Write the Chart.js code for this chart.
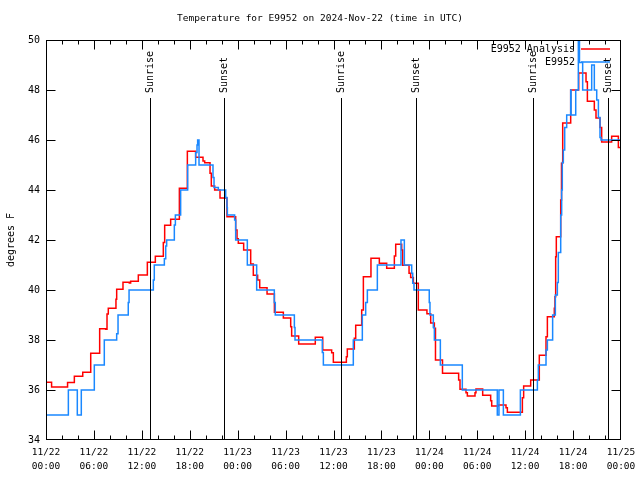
<!DOCTYPE html>
<html>
<head>
<meta charset="utf-8">
<title>Temperature E9952</title>
<script src="https://cdn.jsdelivr.net/npm/chart.js@4.4.1/dist/chart.umd.min.js"></script>
<style>
	body { margin:0; background:#fff; }
	#divGrafico { width:640px; height:480px; }
</style>
</head>
<body onload="Inicio()">
<div id="divGrafico"><canvas id="grafTemp" width="640" height="480"></canvas></div>
<script>
//	Grafico de temperatura de la estacion E9952, 3 dias desde 2024-Nov-22 (horas UTC)

//	Eje X: horas desde 11/22 00:00
var etiquetasX=[['11/22','00:00'],['11/22','06:00'],['11/22','12:00'],['11/22','18:00'],
	['11/23','00:00'],['11/23','06:00'],['11/23','12:00'],['11/23','18:00'],
	['11/24','00:00'],['11/24','06:00'],['11/24','12:00'],['11/24','18:00'],['11/25','00:00']];
var ticksY=[34,36,38,40,42,44,46,48,50];

//	Serie "E9952 Analysis" (inicio de cada escalon, horas / grados F)
var horasAnalisis=[0,0.7,2.7,3.55,4.6,5.6,6.72,7.47,7.64,7.8,8.76,8.85,9.64,10.43,10.6,11.56,12.69,13.69,14.69,14.86,
	15.61,16.7,17.7,18.74,19.66,19.87,20.54,20.7,21.12,21.79,22.66,23.75,23.92,24.08,24.75,25.63,25.96,26.5,26.76,27.68,
	28.6,29.72,30.64,30.76,31.64,33.72,34.65,35.77,35.98,37.61,37.73,38.61,38.78,39.53,39.74,40.69,41.74,42.66,43.62,43.79,
	44.54,44.66,45.46,45.66,46.0,46.62,47.7,48.17,48.63,48.77,49.65,51.67,51.84,52.59,52.76,53.72,53.84,54.68,55.68,55.81,
	56.64,57.6,57.77,59.65,59.81,60.69,61.77,62.61,62.78,63.65,63.73,63.82,63.9,64.45,64.55,64.7,65.7,66.7,67.62,67.79,
	68.66,68.87,69.37,69.58,70.83,71.67,72];
var tempAnalisis=[36.31,36.12,36.3,36.55,36.71,37.47,38.45,38.43,39.04,39.27,39.63,40.03,40.31,40.28,40.35,40.6,41.11,41.35,41.9,42.59,
	42.83,44.07,45.55,45.31,45.16,45.09,44.67,44.16,44.0,43.68,42.93,42.4,42.05,41.87,41.6,41.04,40.59,40.4,40.09,39.84,
	39.11,38.88,38.53,38.16,37.84,38.11,37.6,37.49,37.11,37.33,37.64,38.07,38.59,39.2,40.53,41.27,41.07,40.87,41.36,41.83,
	41.6,40.99,40.67,40.5,40.27,39.2,39.05,38.68,38.47,37.2,36.67,36.4,36.03,35.89,35.76,35.89,36.04,35.79,35.57,35.36,
	35.4,35.29,35.11,35.69,36.16,36.4,37.39,38.13,38.93,39.27,39.73,41.33,42.13,43.6,45.07,46.68,48.0,48.68,48.33,47.55,
	47.2,46.88,46.5,45.92,46.15,45.7,45.7];

//	Serie "E9952" (observaciones)
var horasE9952=[0,2.8,3.92,4.42,6.05,7.3,8.85,9.02,10.3,10.4,13.44,13.56,14.82,14.99,15.11,16.07,16.2,16.86,17.74,18.74,
	18.91,18.99,19.16,20.91,21.04,21.58,22.5,22.66,22.71,23.62,23.75,25.21,26.38,28.59,28.71,31.1,31.18,34.6,34.73,38.48,
	39.61,40.03,40.24,41.49,44.45,44.87,45.79,45.92,46.08,47.99,48.08,48.5,48.63,49.38,52.13,56.51,56.72,57.27,59.4,61.53,
	61.65,62.61,62.78,63.44,63.78,64.03,64.15,64.45,64.57,64.65,64.78,64.95,65.2,65.7,65.75,66.33,66.66,66.8,67.2,68.33,
	68.66,68.96,69.17,69.37,69.5,72];
var tempE9952=[35,36,35,36,37,38,38.25,39,39.5,40,40.4,41,41.25,41.76,42,42.6,43,44,45,45.5,
	45.8,46,45,44.5,44.1,44,43.7,43.3,43,42.8,42,41,40,39.5,39,38.5,38,37.5,37,38,
	39,39.5,40,41,42,41,40.67,40.27,40,39.5,39,38.5,38,37,36,35,36,35,36,36.4,
	37,37.6,38,39,39.8,40.3,41.5,43,44,45.1,45.6,46.5,47,48,47,48,50,49.1,48,49,
	48,47.6,46.9,46.1,46,46];

//	Salida y puesta de sol (horas)
var horasSol=[13.0,22.35,37.0,46.37,61.02,70.4];
var textosSol=['Sunrise','Sunset','Sunrise','Sunset','Sunrise','Sunset'];

var myChart;
var fuente='"DejaVu Sans Mono", monospace';

//	funcion a ejecutar al cargarse la pagina
function Inicio()
{
	PresentaGrafico();
}

//	Une horas y valores en puntos {x,y}
function Puntos(horas, valores)
{
	var arr=[];
	for (var i=0;i<horas.length;++i)
		arr.push({x:horas[i], y:valores[i]});
	return arr;
}

//	Marco, ticks hacia dentro, lineas de sol y leyenda (estilo gnuplot)
var pluginMarco={
	id:'marco',
	afterDatasetsDraw: function(chart)
	{
		var ctx=chart.ctx, a=chart.chartArea, sx=chart.scales.x, sy=chart.scales.y;
		var izq=Math.round(a.left)+0.5, der=Math.round(a.right)-0.5;
		var arr=Math.round(a.top)+0.5, aba=Math.round(a.bottom)-0.5;
		ctx.save();
		ctx.strokeStyle='#000';
		ctx.lineWidth=1;
		ctx.beginPath();

		//	lineas de salida/puesta de sol
		for (var i=0;i<horasSol.length;++i)
		{
			var px=Math.round(sx.getPixelForValue(horasSol[i]))+0.5;
			ctx.moveTo(px, 98);
			ctx.lineTo(px, aba);
		}

		//	ticks eje X (cada 2 horas, mayores cada 6)
		for (var h=0;h<=72;h+=2)
		{
			var tx=Math.min(Math.round(sx.getPixelForValue(h))+0.5, der);
			var largo=(h%6==0)?9:4;
			ctx.moveTo(tx, aba); ctx.lineTo(tx, aba-largo);
			ctx.moveTo(tx, arr); ctx.lineTo(tx, arr+largo);
		}
		//	ticks eje Y
		for (var j=0;j<ticksY.length;++j)
		{
			var ty=Math.max(Math.min(Math.round(sy.getPixelForValue(ticksY[j]))+0.5, aba), arr);
			ctx.moveTo(izq, ty); ctx.lineTo(izq+9, ty);
			ctx.moveTo(der, ty); ctx.lineTo(der-9, ty);
		}
		ctx.stroke();
		ctx.strokeRect(izq, arr, der-izq, aba-arr);

		//	textos verticales
		ctx.fillStyle='#000';
		ctx.font='10px '+fuente;
		ctx.textAlign='left';
		ctx.textBaseline='middle';
		for (var k=0;k<horasSol.length;++k)
		{
			ctx.save();
			ctx.translate(Math.round(sx.getPixelForValue(horasSol[k]))+0.5, 93);
			ctx.rotate(-Math.PI/2);
			ctx.fillText(textosSol[k], 0, 0);
			ctx.restore();
		}

		//	leyenda
		var ds=chart.data.datasets;
		ctx.textAlign='right';
		for (var n=0;n<ds.length;++n)
		{
			var ly=a.top+9+n*13;
			ctx.fillText(ds[n].label, a.right-46, ly);
			ctx.strokeStyle=ds[n].borderColor;
			ctx.lineWidth=1.5;
			ctx.beginPath();
			ctx.moveTo(a.right-40, ly); ctx.lineTo(a.right-11, ly);
			ctx.stroke();
		}
		ctx.restore();
	}
};

//	Prepara el grafico
function PresentaGrafico()
{
	Chart.defaults.font.family=fuente;
	Chart.defaults.font.size=10;
	Chart.defaults.color='#000';

	var ctx=document.getElementById('grafTemp').getContext('2d');
	if (myChart)
		myChart.destroy();

	myChart=new Chart(ctx, {
		type:'line',
		data:{
			datasets:[
				{label:'E9952 Analysis', data:Puntos(horasAnalisis, tempAnalisis), borderColor:'#FF0000', backgroundColor:'#FF0000',
				 borderWidth:1.5, pointRadius:0, stepped:true, fill:false, order:1},
				{label:'E9952', data:Puntos(horasE9952, tempE9952), borderColor:'#1a88ff', backgroundColor:'#1a88ff',
				 borderWidth:1.5, pointRadius:0, stepped:true, fill:false, order:0}
			]
		},
		options:{
			responsive:false,
			animation:false,
			layout:{padding:{left:0, right:0, top:0, bottom:0}},
			plugins:{
				legend:{display:false},
				tooltip:{enabled:false},
				title:{display:true, text:'Temperature for E9952 on 2024-Nov-22 (time in UTC)',
					font:{size:9.5, weight:'normal'}, color:'#000', padding:{top:13, bottom:15.6}}
			},
			scales:{
				x:{
					type:'linear', min:0, max:72,
					grid:{display:false, drawTicks:false},
					border:{display:false},
					ticks:{stepSize:6, autoSkip:false, maxRotation:0, padding:6,
						font:{size:9.5, lineHeight:1.45},
						callback:function(v){ return etiquetasX[Math.round(v/6)]; }},
					afterFit:function(s){ s.height=40; s.paddingLeft=0; s.paddingRight=0; }
				},
				y:{
					min:34, max:50,
					grid:{display:false, drawTicks:false},
					border:{display:false},
					ticks:{stepSize:2, padding:6},
					title:{display:true, text:'degrees F', font:{size:10}, padding:{top:5, bottom:0}},
					afterFit:function(s){ s.width=46; }
				},
				yDer:{
					position:'right', min:34, max:50,
					grid:{display:false, drawTicks:false},
					border:{display:false},
					ticks:{display:false},
					afterFit:function(s){ s.width=19; }
				}
			}
		},
		plugins:[pluginMarco]
	});
}
</script>
</body>
</html>
